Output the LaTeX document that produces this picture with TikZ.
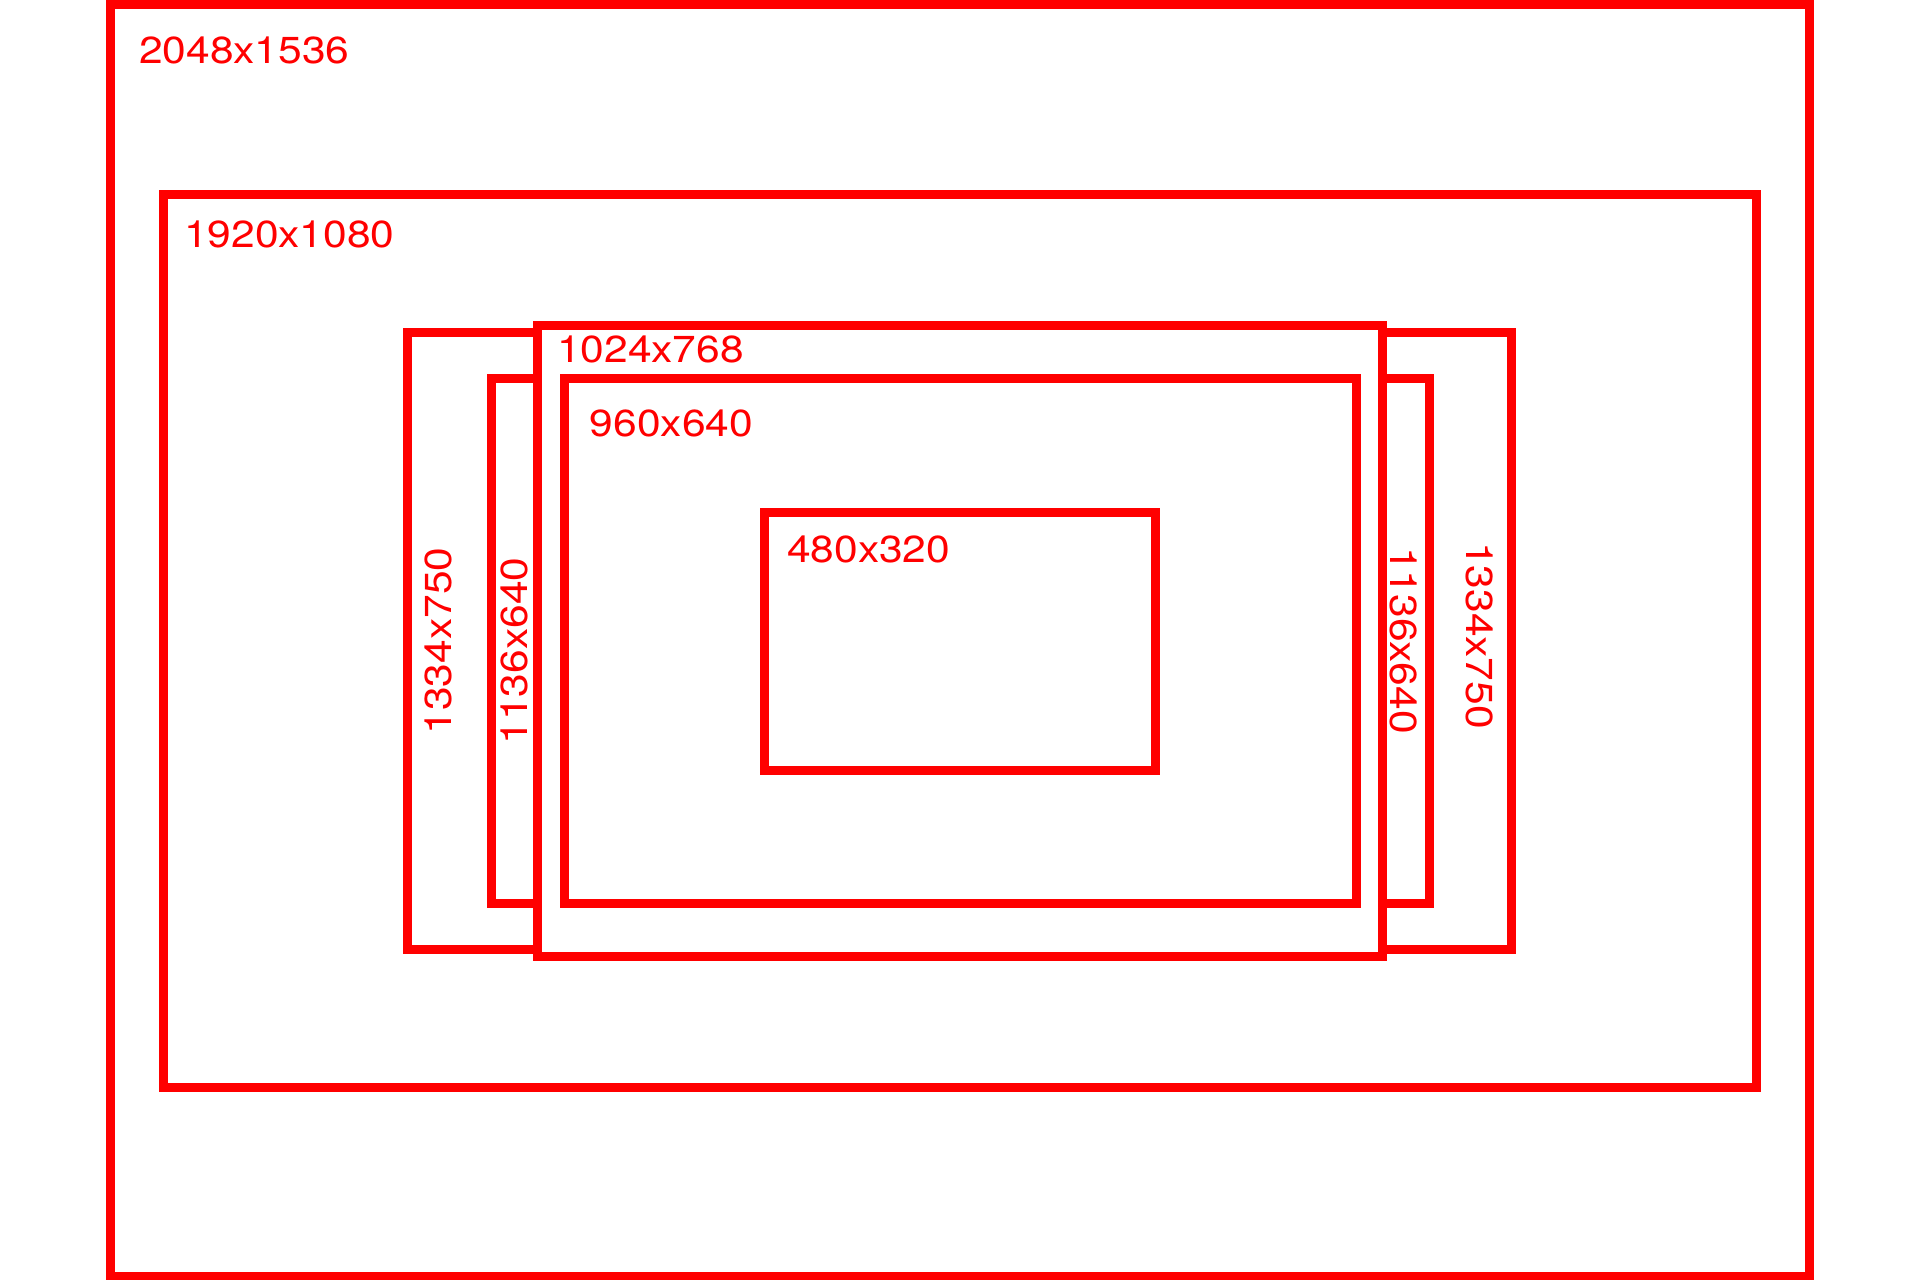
\documentclass[tikz,border=0pt]{standalone}
\usepackage{fontspec}
\setmainfont{TeX Gyre Heros}[FakeStretch=1.13]
\definecolor{frame}{RGB}{255,0,0}
\tikzset{
  box/.style={draw=frame, line width=9pt},
  lbl/.style={text=frame, inner sep=0pt, font=\fontsize{37.6}{40}\selectfont},
}
\begin{document}
\begin{tikzpicture}[x=1pt,y=-1pt]
\useasboundingbox[fill=white] (0,0) rectangle (1920,1280);
\draw[box] (110.5,4) rectangle (1809.5,1276);
\draw[box] (163,194.5) rectangle (1756.5,1087.5);
\draw[box] (407.8,332.5) rectangle (1511.5,949.5);
\draw[box] (491,378.5) rectangle (1429,903.5);
\draw[box, fill=white] (537.5,325) rectangle (1382.5,956.8);
\draw[box] (564,378.5) rectangle (1356,903.5);
\draw[box] (764.5,512) rectangle (1155.5,770);
\node[lbl, anchor=base west] (t2048) at (139,63) {2048x1536};
\node[lbl, anchor=base west] (t1920) at (184,247) {1920x1080};
\node[lbl, anchor=base west] (t1024) at (557,362.7) {1024x768};
\node[lbl, anchor=base west] (t960) at (589.7,436.7) {960x640};
\node[lbl, anchor=base west] (t480) at (787,562.7) {480x320};
\node[lbl, anchor=base, rotate=90] (t1334l) at (451,641) {1334x750};
\node[lbl, anchor=base, rotate=90] (t1136l) at (527.7,651) {1136x640};
\node[lbl, anchor=base, rotate=-90] (t1136r) at (1390,640.5) {1136x640};
\node[lbl, anchor=base, rotate=-90] (t1334r) at (1466.7,635.5) {1334x750};
\end{tikzpicture}
\end{document}
